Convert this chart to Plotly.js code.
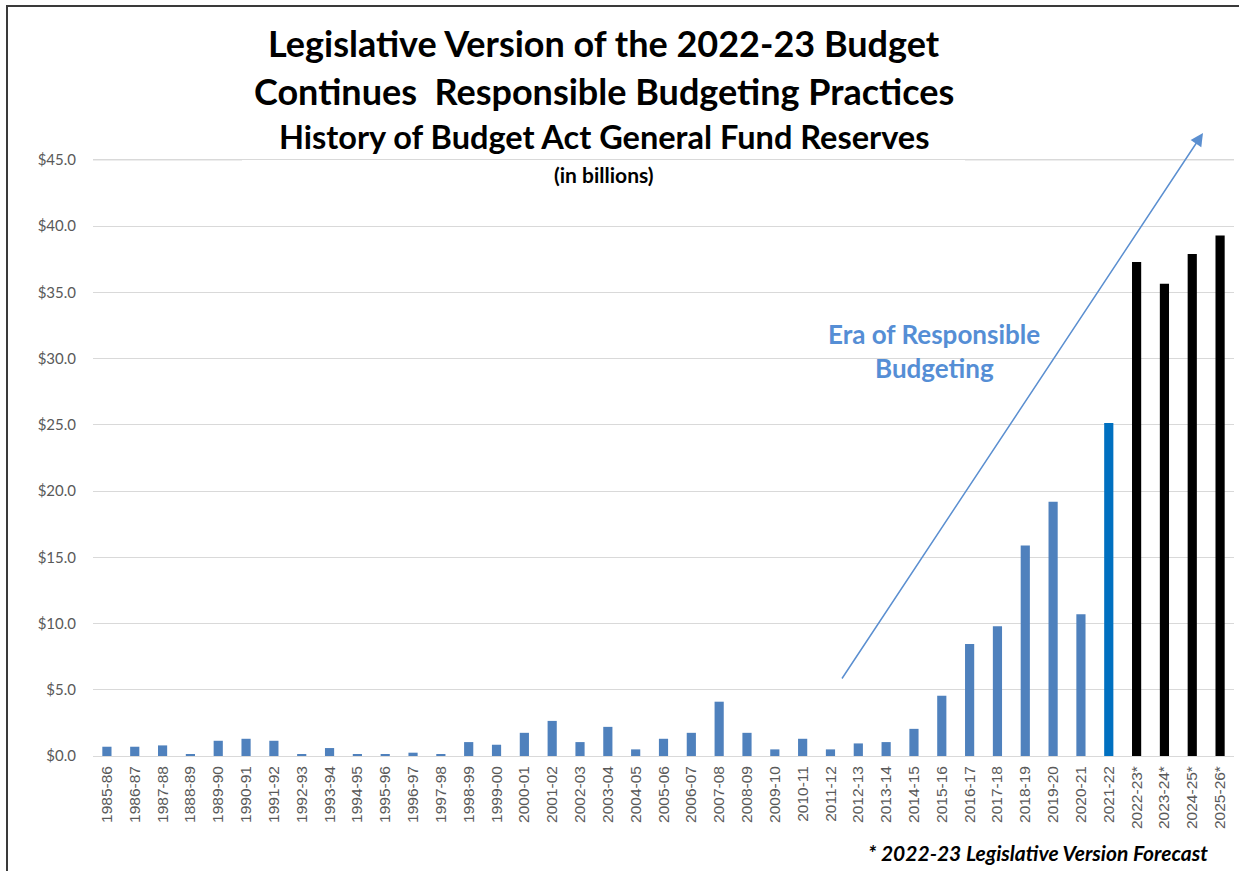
<!DOCTYPE html>
<html>
<head>
<meta charset="utf-8">
<script src="https://cdn.plot.ly/plotly-3.0.1.min.js"></script>
<style>
  html, body { margin: 0; padding: 0; background: #fff; }
  #wrap { position: relative; width: 1239px; height: 871px; }
  #chart { width: 1239px; height: 871px; }
  #frame { position: absolute; left: 6px; top: 5px; right: -4px; bottom: -4px;
           border-left: 2px solid #3a3a3a; border-top: 2px solid #3a3a3a; pointer-events: none; }
</style>
</head>
<body>
<div id="wrap">
  <div id="chart"></div>
  <div id="frame"></div>
</div>
<script>
const categories = [
  "1985-86","1986-87","1987-88","1888-89","1989-90","1990-91","1991-92","1992-93","1993-94",
  "1994-95","1995-96","1996-97","1997-98","1998-99","1999-00","2000-01","2001-02","2002-03",
  "2003-04","2004-05","2005-06","2006-07","2007-08","2008-09","2009-10","2010-11","2011-12",
  "2012-13","2013-14","2014-15","2015-16","2016-17","2017-18","2018-19","2019-20","2020-21",
  "2021-22","2022-23*","2023-24*","2024-25*","2025-26*"
];
const reserves = [
  0.7, 0.7, 0.8, 0.15, 1.15, 1.3, 1.15, 0.15, 0.6,
  0.15, 0.15, 0.25, 0.15, 1.05, 0.85, 1.75, 2.65, 1.05,
  2.2, 0.5, 1.3, 1.75, 4.1, 1.75, 0.5, 1.3, 0.5,
  0.95, 1.05, 2.05, 4.55, 8.45, 9.8, 15.9, 19.2, 10.7,
  25.15, 37.3, 35.65, 37.9, 39.3
];
const yTickValues = [0, 5, 10, 15, 20, 25, 30, 35, 40, 45];
const yTickLabels = yTickValues.map(v => "$" + v.toFixed(1));

const titleLine1 = "Legislative Version of the 2022-23 Budget";
const titleLine2 = "Continues  Responsible Budgeting Practices";
const titleLine3 = "History of Budget Act General Fund Reserves";
const titleUnits = "(in billions)";
const eraLine1 = "Era of Responsible";
const eraLine2 = "Budgeting";
const footnote = "* 2022-23 Legislative Version Forecast";

const currentYear = "2021-22";
function barColor(c) {
  if (c.endsWith("*")) return "#000000";
  if (c === currentYear) return "#0070C0";
  return "#4F81BD";
}

const trace = {
  type: "bar",
  x: categories,
  y: reserves,
  width: 0.33,
  marker: { color: categories.map(barColor), line: { width: 0 } },
  hoverinfo: "x+y"
};

// plot area placement: left 93px, width 1141px, bottom at 756px, $45 gridline at 160px
const YMAX = 45.3;
const PL = 93, PW = 1141, PB = 756, PH = Math.round(596 * YMAX / 45);
const px = v => (v - PL) / PW;
const py = v => (PB - v) / PH;

const TF = "Lato, 'Open Sans', sans-serif";
const GRID = "#d9d9d9";
const topTick = yTickValues[yTickValues.length - 1];

const layout = {
  width: 1239, height: 871,
  margin: { l: PL, r: 1239 - PL - PW, t: PB - PH, b: 871 - PB },
  paper_bgcolor: "#ffffff",
  plot_bgcolor: "#ffffff",
  showlegend: false,
  xaxis: {
    type: "category",
    range: [-0.5, categories.length - 0.5],
    tickangle: -90,
    tickfont: { family: "'Liberation Sans', Arial, sans-serif", size: 15.5, color: "#595959" },
    ticks: "",
    ticklabelstandoff: 6,
    showgrid: false,
    showline: false,
    zeroline: false
  },
  yaxis: {
    range: [0, YMAX],
    tickmode: "array",
    tickvals: yTickValues,
    ticktext: yTickLabels,
    tickfont: { family: TF, size: 15, color: "#595959" },
    ticks: "",
    ticklabelstandoff: 16,
    showgrid: true,
    gridcolor: GRID,
    gridwidth: 1,
    zeroline: true,
    zerolinecolor: GRID,
    zerolinewidth: 1,
    showline: false
  },
  shapes: [
    { type: "rect", xref: "paper", yref: "paper", layer: "between",
      x0: px(242), x1: px(965), y0: py(195), y1: py(10),
      fillcolor: "#ffffff", line: { width: 0 } },
    { type: "rect", xref: "paper", yref: "paper", layer: "between",
      x0: px(772), x1: px(1097), y0: py(392), y1: py(318),
      fillcolor: "#ffffff", line: { width: 0 } },
    { type: "line", xref: "paper", yref: "y", layer: "between",
      x0: 0, x1: px(242), y0: topTick, y1: topTick,
      line: { color: GRID, width: 1 } },
    { type: "line", xref: "paper", yref: "y", layer: "between",
      x0: px(965), x1: 1, y0: topTick, y1: topTick,
      line: { color: GRID, width: 1 } }
  ],
  annotations: [
    { xref: "paper", yref: "paper", x: px(604), y: py(43), text: "<b>" + titleLine1 + "</b>",
      showarrow: false, xanchor: "center", yanchor: "middle",
      font: { family: TF, size: 36, color: "#000000" } },
    { xref: "paper", yref: "paper", x: px(604), y: py(91), text: "<b>" + titleLine2 + "</b>",
      showarrow: false, xanchor: "center", yanchor: "middle",
      font: { family: TF, size: 36, color: "#000000" } },
    { xref: "paper", yref: "paper", x: px(604), y: py(137), text: "<b>" + titleLine3 + "</b>",
      showarrow: false, xanchor: "center", yanchor: "middle",
      font: { family: TF, size: 32.5, color: "#000000" } },
    { xref: "paper", yref: "paper", x: px(604), y: py(174), text: "<b>" + titleUnits + "</b>",
      showarrow: false, xanchor: "center", yanchor: "middle",
      font: { family: TF, size: 21, color: "#000000" } },
    { xref: "paper", yref: "paper", x: px(934), y: py(334), text: "<b>" + eraLine1 + "</b>",
      showarrow: false, xanchor: "center", yanchor: "middle",
      font: { family: TF, size: 26, color: "#558ED5" } },
    { xref: "paper", yref: "paper", x: px(934), y: py(368), text: "<b>" + eraLine2 + "</b>",
      showarrow: false, xanchor: "center", yanchor: "middle",
      font: { family: TF, size: 26, color: "#558ED5" } },
    { xref: "paper", yref: "paper", x: px(1210), y: py(852), text: "<b><i>" + footnote + "</i></b>",
      showarrow: false, xanchor: "right", yanchor: "middle",
      font: { family: TF, size: 21, color: "#000000" } },
    { xref: "paper", yref: "paper", x: px(1203), y: py(133), text: "",
      showarrow: true, arrowhead: 2, arrowsize: 1.7, arrowwidth: 1.5, arrowcolor: "#5B8FD0",
      ax: 841 - 1203, ay: 680 - 133, standoff: 0, startstandoff: 0 }
  ]
};

Plotly.newPlot("chart", [trace], layout, { displayModeBar: false, staticPlot: true });
</script>
</body>
</html>
